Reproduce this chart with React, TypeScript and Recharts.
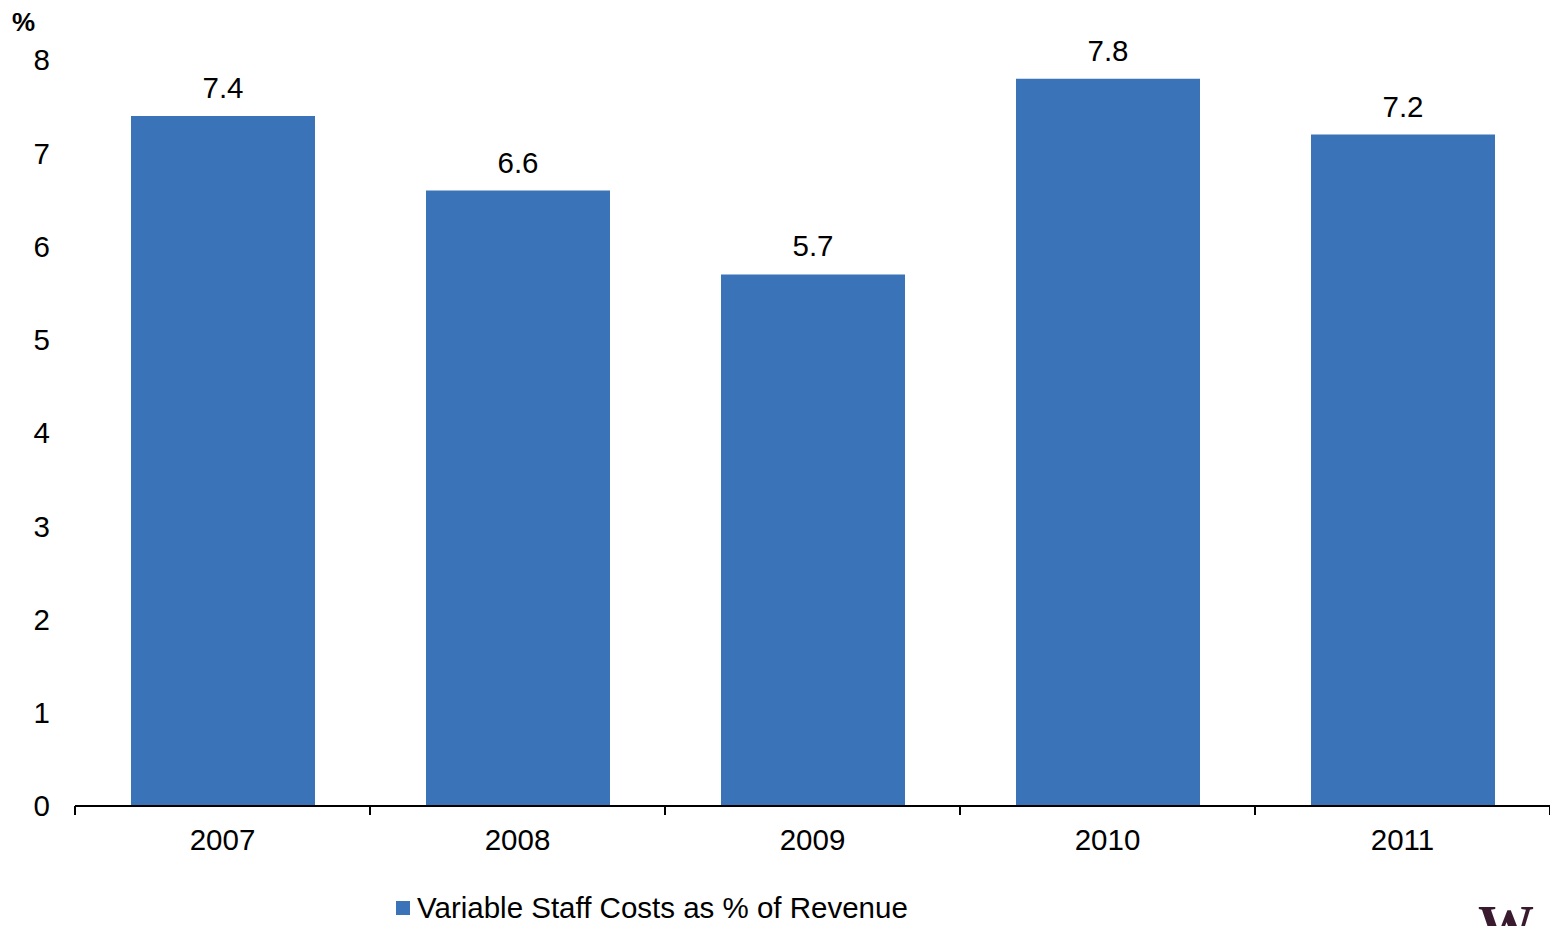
import React from 'react';
import { BarChart, Bar, XAxis, YAxis, LabelList } from 'recharts';

const years = ['2007', '2008', '2009', '2010', '2011'];
const values = [7.4, 6.6, 5.7, 7.8, 7.2];
const yTicks = [0, 1, 2, 3, 4, 5, 6, 7, 8];
const seriesName = 'Variable Staff Costs as % of Revenue';
const unitLabel = '%';

const data = years.map((y, i) => ({ year: y, value: values[i] }));

const FONT = '"Liberation Sans", Arial, sans-serif';
const BAR = '#3A73B7';
const FS = 29.5;

const YearTick = (props: any) => {
  const { x, y, payload, index, visibleTicksCount } = props;
  const off = payload && typeof payload.offset === 'number' ? payload.offset : 0;
  const last = index === (visibleTicksCount ?? years.length) - 1;
  return (
    <g>
      <line x1={x - off} x2={x - off} y1={y} y2={y + 9} stroke="#000" strokeWidth={2} />
      {last && <line x1={x + off} x2={x + off} y1={y} y2={y + 9} stroke="#000" strokeWidth={2} />}
      <text x={x} y={y + 44} textAnchor="middle" fontFamily={FONT} fontSize={FS} fill="#000">
        {payload.value}
      </text>
    </g>
  );
};

export default function App() {
  return (
    <div style={{ position: 'absolute', left: 0, top: 0, width: 1550, height: 926, overflow: 'hidden', background: '#fff', fontFamily: FONT }}>
      <BarChart width={1550} height={926} data={data} margin={{ top: 60, right: 0, left: 0, bottom: 0 }}>
        <XAxis
          dataKey="year"
          height={120}
          tickSize={0}
          tickMargin={0}
          tickLine={false}
          axisLine={{ stroke: '#000', strokeWidth: 2 }}
          tick={<YearTick />}
          interval={0}
        />
        <YAxis
          domain={[0, 8]}
          ticks={yTicks}
          width={75}
          axisLine={false}
          tickLine={false}
          tickSize={0}
          tickMargin={25}
          tick={{ fill: '#000', fontSize: FS, fontFamily: FONT }}
        />
        <Bar dataKey="value" name={seriesName} fill={BAR} barSize={184} isAnimationActive={false}>
          <LabelList dataKey="value" position="top" offset={18} fill="#000" fontSize={FS} fontFamily={FONT} />
        </Bar>
      </BarChart>
      <div style={{ position: 'absolute', left: 12, top: 7, fontSize: 26, fontWeight: 'bold', color: '#000', fontFamily: FONT }}>
        {unitLabel}
      </div>
      <div style={{ position: 'absolute', left: 396, top: 894, height: 28, display: 'flex', alignItems: 'center', fontSize: FS, lineHeight: '28px', color: '#000', fontFamily: FONT, whiteSpace: 'nowrap' }}>
        <span style={{ display: 'inline-block', width: 14, height: 14, background: BAR, marginRight: 7 }} />
        <span>{seriesName}</span>
      </div>
      <div style={{ position: 'absolute', left: 1478, top: 898, fontSize: 56, fontWeight: 'bold', color: '#3a1a2e', fontFamily: '"Liberation Serif", serif', lineHeight: 1 }}>
        W
      </div>
    </div>
  );
}
